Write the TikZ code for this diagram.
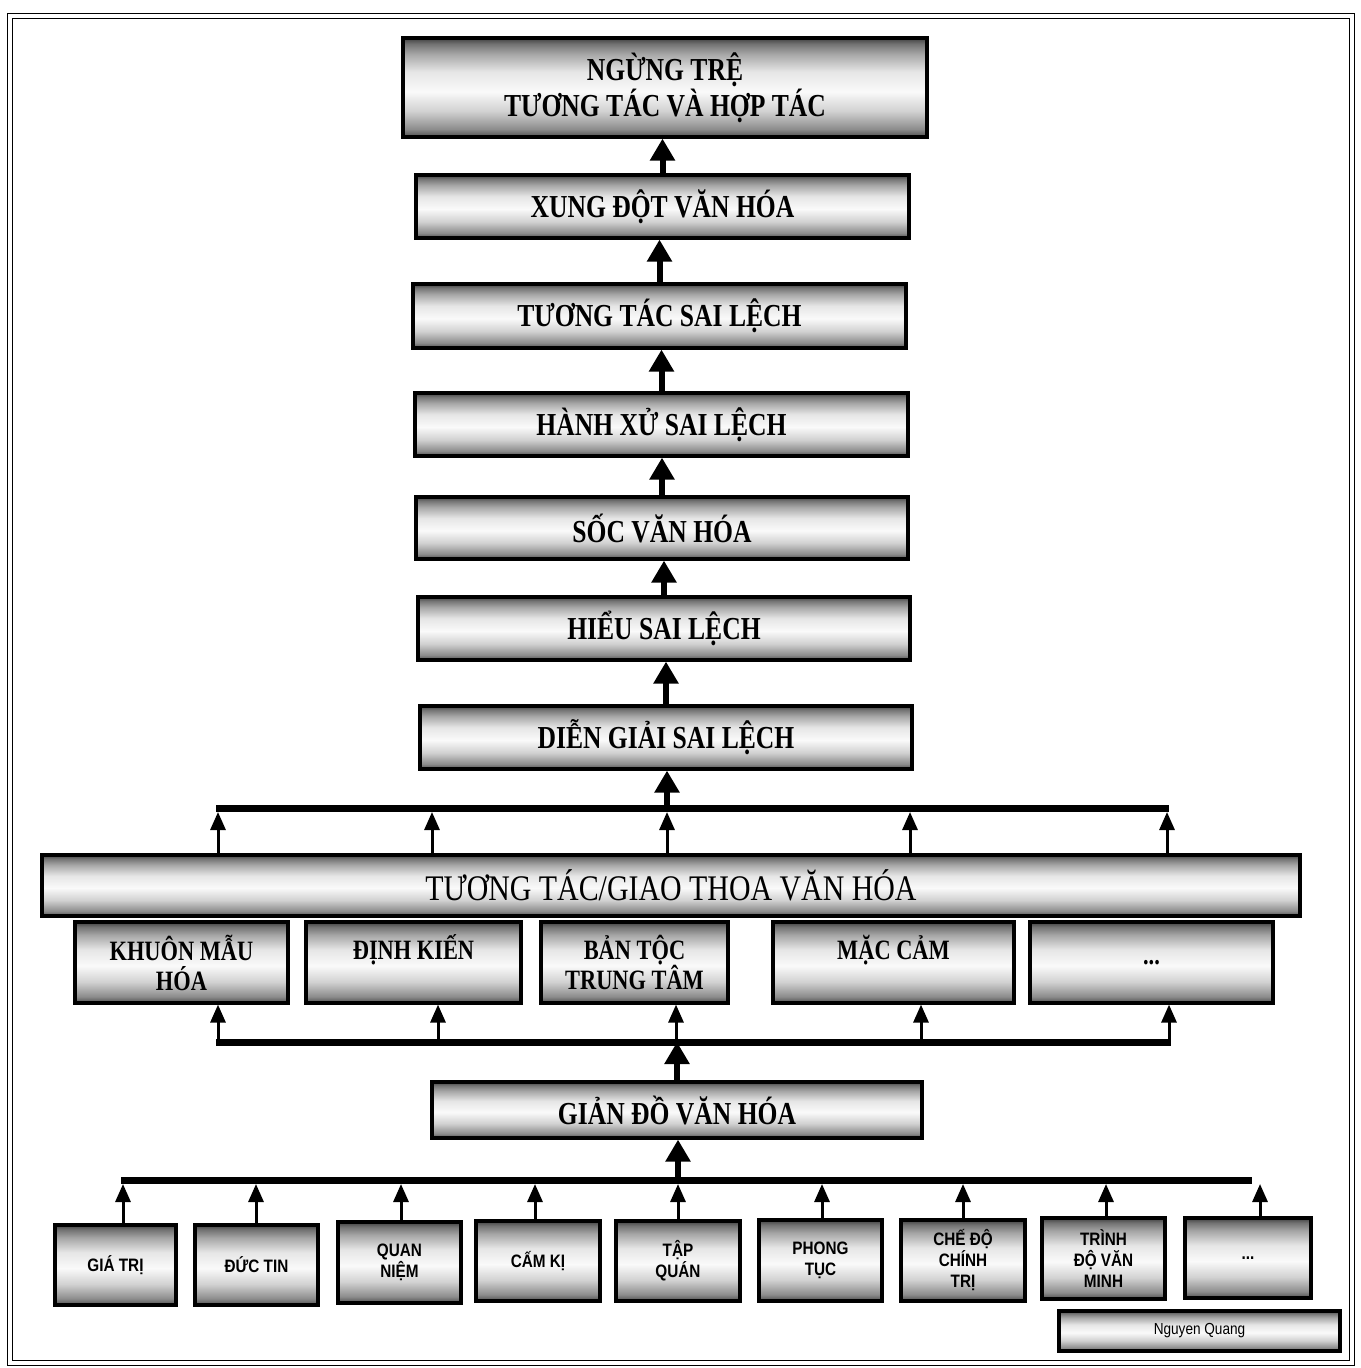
\documentclass[tikz,border=0pt]{standalone}
\usepackage{fontspec}
\setmainfont{Liberation Serif}
\newfontfamily\boxfont{Liberation Serif}[FakeStretch=0.8]
\newfontfamily\widefont{Liberation Serif}[FakeStretch=0.83]
\newfontfamily\smallfont{Liberation Sans}[FakeStretch=0.85]
\usetikzlibrary{arrows.meta}
\pgfdeclareverticalshading{metal}{100bp}{color(0bp)=(black!70); color(25bp)=(black!70); color(29bp)=(black!45); color(38bp)=(black!18); color(48bp)=(black!2); color(58bp)=(black!10); color(67bp)=(black!35); color(72bp)=(black!55); color(75bp)=(black!75); color(100bp)=(black!75)}
\newcommand\placebox[7]{%
  \node[metal,#6,minimum width={(#4-#2)*0.5pt},minimum height={(#5-#3)*0.5pt}] (#1) at ({(#2+#4)/2},{(#3+#5)/2}) {#7};}
\begin{document}
\begin{tikzpicture}[x=0.5pt,y=-0.5pt,
  metal/.style={draw=black, line width=1.6pt, shading=metal, inner sep=0pt, align=center, text=black},
  big/.style={font=\boxfont\bfseries\fontsize{16}{16}\selectfont},
  mid/.style={font=\boxfont\bfseries\fontsize{14}{15}\selectfont},
  wide/.style={font=\widefont\fontsize{18}{18}\selectfont},
  small/.style={font=\smallfont\bfseries\fontsize{9}{10.5}\selectfont},
  cred/.style={font=\smallfont\fontsize{8}{9}\selectfont},
  bigarrow/.style={line width=3pt, -{Triangle[width=12pt,length=11pt]}},
  smallarrow/.style={line width=1.5pt, -{Triangle[width=7.5pt,length=9pt]}},
  bar/.style={line width=3.5pt}]
\useasboundingbox (0,0) rectangle (1360,1368);
\fill[white] (0,0) rectangle (1360,1368);
\draw[double, line width=0.7pt, double distance=1.6pt] (10,16) rectangle (1352,1363);

% vertical chain
\placebox{ngung}{403}{38}{927}{137}{big}{NGỪNG TRỆ\\TƯƠNG TÁC VÀ HỢP TÁC}
\placebox{xung}{416}{175}{909}{238}{big}{XUNG ĐỘT VĂN HÓA}
\placebox{tuongtac}{413}{284}{906}{348}{big}{TƯƠNG TÁC SAI LỆCH}
\placebox{hanhxu}{415}{393}{908}{456}{big}{HÀNH XỬ SAI LỆCH}
\placebox{soc}{416}{497}{908}{559}{big}{SỐC VĂN HÓA}
\placebox{hieu}{418}{597}{910}{660}{big}{HIỂU SAI LỆCH}
\placebox{dien}{420}{706}{912}{769}{big}{DIỄN GIẢI SAI LỆCH}

\draw[bigarrow] (xung.north) -- (xung.north |- ngung.south);
\draw[bigarrow] (tuongtac.north) -- (tuongtac.north |- xung.south);
\draw[bigarrow] (hanhxu.north) -- (hanhxu.north |- tuongtac.south);
\draw[bigarrow] (soc.north) -- (soc.north |- hanhxu.south);
\draw[bigarrow] (hieu.north) -- (hieu.north |- soc.south);
\draw[bigarrow] (dien.north) -- (dien.north |- hieu.south);

% interaction band
\placebox{giao}{42}{855}{1300}{916}{wide}{TƯƠNG TÁC/GIAO THOA VĂN HÓA}
\placebox{khuon}{75}{922}{288}{1003}{mid}{KHUÔN MẪU\\HÓA}
\placebox{dinh}{306}{922}{521}{1003}{mid}{ĐỊNH KIẾN\\~}
\placebox{ban}{541}{922}{728}{1003}{mid}{BẢN TỘC\\TRUNG TÂM}
\placebox{mac}{773}{922}{1014}{1003}{mid}{MẶC CẢM\\~}
\placebox{etcA}{1030}{922}{1273}{1003}{mid}{...}

% bar 1 (above interaction band)
\coordinate (b1l) at (216,808);
\coordinate (b1r) at (1169,808);
\coordinate (b1c) at (667,808);
\draw[bar] (b1l) -- (b1r);
\foreach \xx in {218,432,667,910,1167}{
  \draw[smallarrow] (giao.north -| \xx,0) -- (\xx,812);
}
\draw[bigarrow] (b1c) -- (b1c |- dien.south);

% bar 2 (below middle row)
\coordinate (b2l) at (216,1042);
\coordinate (b2r) at (1171,1042);
\coordinate (b2c) at (677,1042);
\draw[bar] (b2l) -- (b2r);
\draw[smallarrow] (218,1042) -- (218,1042 |- khuon.south);
\draw[smallarrow] (438,1042) -- (438,1042 |- dinh.south);
\draw[smallarrow] (676,1042) -- (676,1042 |- ban.south);
\draw[smallarrow] (921,1042) -- (921,1042 |- mac.south);
\draw[smallarrow] (1169,1042) -- (1169,1042 |- etcA.south);

\placebox{gian}{432}{1082}{922}{1138}{big}{GIẢN ĐỒ VĂN HÓA}
\draw[bigarrow] (gian.north -| b2c) -- (b2c);

% bottom row
\placebox{giatri}{55}{1225}{176}{1305}{small}{GIÁ TRỊ}
\placebox{ductin}{195}{1225}{318}{1305}{small}{ĐỨC TIN}
\placebox{quan}{338}{1222}{461}{1303}{small}{QUAN\\NIỆM}
\placebox{camki}{476}{1221}{600}{1301}{small}{CẤM KỊ}
\placebox{tap}{616}{1221}{740}{1301}{small}{TẬP\\QUÁN}
\placebox{phong}{759}{1220}{882}{1301}{small}{PHONG\\TỤC}
\placebox{che}{901}{1220}{1025}{1301}{small}{CHẾ ĐỘ\\CHÍNH\\TRỊ}
\placebox{trinh}{1042}{1218}{1165}{1299}{small}{TRÌNH\\ĐỘ VĂN\\MINH}
\placebox{etcB}{1185}{1218}{1311}{1298}{small}{...}
\placebox{credit}{1059}{1311}{1340}{1351}{cred}{Nguyen Quang}

% bar 3
\coordinate (b3l) at (121,1180);
\coordinate (b3r) at (1252,1180);
\coordinate (b3c) at (678,1180);
\draw[bar] (b3l) -- (b3r);
\draw[smallarrow] (giatri.north -| 123,0) -- (123,1184);
\draw[smallarrow] (ductin.north -| 256,0) -- (256,1184);
\draw[smallarrow] (quan.north -| 401,0) -- (401,1184);
\draw[smallarrow] (camki.north -| 535,0) -- (535,1184);
\draw[smallarrow] (tap.north -| 678,0) -- (678,1184);
\draw[smallarrow] (phong.north -| 822,0) -- (822,1184);
\draw[smallarrow] (che.north -| 963,0) -- (963,1184);
\draw[smallarrow] (trinh.north -| 1106,0) -- (1106,1184);
\draw[smallarrow] (etcB.north -| 1260,0) -- (1260,1184);
\draw[bigarrow] (b3c) -- (b3c |- gian.south);
\end{tikzpicture}
\end{document}
